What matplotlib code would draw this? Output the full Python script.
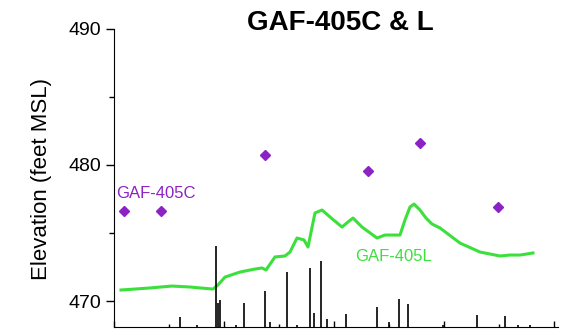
import numpy as np
import matplotlib
matplotlib.use("Agg")
import matplotlib.pyplot as plt
from matplotlib.ticker import MultipleLocator

plt.rcParams['font.family'] = ['Liberation Sans', 'DejaVu Sans']

# water level in well GAF-405L (day, feet MSL)
level_day = [7, 21, 36, 58, 76, 86, 99, 104, 111, 126, 141, 148, 152, 161, 171, 176,
             183, 190, 194, 201, 208, 216, 228, 234, 239, 248, 263, 271, 286, 291,
             296, 300, 306, 312, 318, 326, 346, 366, 386, 396, 406, 419]
level_elev = [470.81, 470.88, 470.96, 471.10, 471.03, 470.96, 470.88, 471.18, 471.76,
              472.13, 472.35, 472.43, 472.28, 473.24, 473.31, 473.60, 474.63, 474.49,
              473.97, 476.47, 476.69, 476.18, 475.44, 475.81, 476.10, 475.44, 474.63,
              474.85, 474.85, 475.96, 476.91, 477.13, 476.69, 476.10, 475.66, 475.37,
              474.26, 473.60, 473.31, 473.38, 473.38, 473.53]

# manual readings at GAF-405C
manual_day = [10, 47, 151, 254, 306, 384]
manual_elev = [476.62, 476.62, 480.74, 479.56, 481.62, 476.91]

# rainfall (inches)
rain_day = [66, 83, 102, 104, 106, 122, 130, 151, 156, 173, 183, 196, 200, 207, 213,
            232, 263, 275, 285, 294, 329, 363, 391, 404, 416]
rain_in = [0.10, 0.02, 0.82, 0.24, 0.27, 0.02, 0.24, 0.36, 0.05, 0.55, 0.02, 0.59,
           0.14, 0.66, 0.08, 0.13, 0.20, 0.05, 0.28, 0.23, 0.02, 0.12, 0.11, 0.02, 0.02]

purple = '#8C22C4'
green = '#3CE03C'

fig = plt.figure(figsize=(5.72, 3.32), dpi=100)
ax = fig.add_axes([0.1993, 0.0151, 0.7762, 0.8976])

# rain spikes on a hidden twin axis
ax2 = ax.twinx()
ax2.vlines(rain_day, 0, rain_in, color='black', linewidth=1.2)
ax2.set_ylim(0, 3.0)
ax2.axis('off')

ax.plot(level_day, level_elev, color=green, linewidth=2.2, zorder=3)
ax.plot(manual_day, manual_elev, linestyle='none', marker='D', markersize=5.5,
        color=purple, zorder=4)

ax.text(2, 477.87, 'GAF-405C', color=purple, fontsize=12, va='center')
ax.text(241, 473.3, 'GAF-405L', color=green, fontsize=12, va='center')

ax.set_xlim(0, 444)
ax.set_ylim(468.09, 490)
ax.yaxis.set_major_locator(MultipleLocator(10))
ax.yaxis.set_minor_locator(MultipleLocator(5))
ax.xaxis.set_major_locator(MultipleLocator(110))
ax.xaxis.set_minor_locator(MultipleLocator(55))
ax.tick_params(axis='y', which='major', direction='out', length=6, width=1,
               labelsize=14, pad=3)
ax.tick_params(axis='y', which='minor', direction='out', length=3.5, width=1)
ax.tick_params(axis='x', which='both', direction='in', length=4, width=1,
               labelbottom=False)
ax.tick_params(axis='x', which='minor', length=2.5)
ax.spines['top'].set_visible(False)
ax.spines['right'].set_visible(False)
ax.set_ylabel('Elevation (feet MSL)', fontsize=16)
ax.yaxis.set_label_coords(-0.14, 0.497)

fig.text(340 / 572, 1 - 23 / 332, 'GAF-405C & L', fontsize=20, fontweight='bold',
         ha='center', va='center')

fig.savefig('out.png', dpi=100)
